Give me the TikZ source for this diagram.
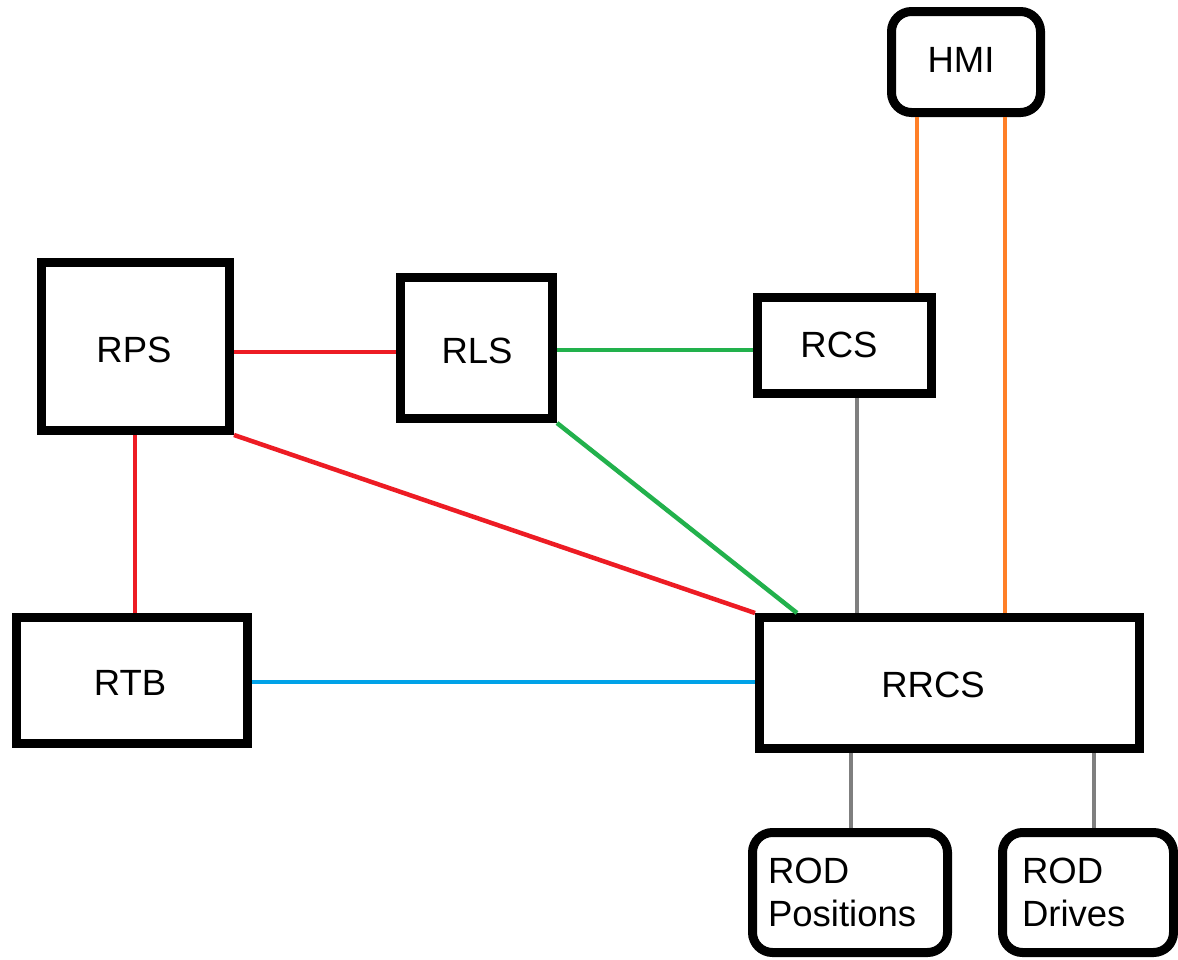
\documentclass[tikz,border=0pt]{standalone}
\usepackage{fontspec}
\setmainfont{Liberation Sans}
\definecolor{pred}{RGB}{237,28,36}
\definecolor{pgreen}{RGB}{34,177,76}
\definecolor{porange}{RGB}{255,127,39}
\definecolor{pblue}{RGB}{0,162,232}
\definecolor{pgray}{RGB}{127,127,127}
\tikzset{
  lbl/.style={font=\fontsize{36.5}{43}\selectfont},
  box/.style={draw=black, line width=9pt, fill=white, inner sep=0pt, lbl},
  rbox/.style={box, rounded corners=20pt},
  link/.style={line width=4.5pt},
}
\begin{document}
\begin{tikzpicture}[x=1pt,y=-1pt]
\useasboundingbox (0,0) rectangle (1178,959);
\fill[white] (0,0) rectangle (1178,959);

% nodes
\node[rbox, minimum width=149pt, minimum height=101pt] (HMI) at (966,62) {};
\node[lbl] (HMIt) at (961,60) {HMI};
\node[box, minimum width=188pt, minimum height=168pt] (RPS) at (135.5,346.5) {};
\node[lbl] (RPSt) at (134,350) {RPS};
\node[box, minimum width=152pt, minimum height=141pt] (RLS) at (476.5,348) {};
\node[lbl] (RLSt) at (477,351) {RLS};
\node[box, minimum width=174pt, minimum height=96pt] (RCS) at (844.5,345.5) {};
\node[lbl] (RCSt) at (839,345) {RCS};
\node[box, minimum width=231pt, minimum height=126pt] (RTB) at (132,680.5) {};
\node[lbl] (RTBt) at (130,682.5) {RTB};
\node[box, minimum width=380pt, minimum height=131pt] (RRCS) at (949.5,683) {};
\node[lbl] (RRCSt) at (933,685) {RRCS};
\node[rbox, minimum width=195pt, minimum height=120pt, text width=164pt,
      inner xsep=15.5pt, align=left] (RODP) at (850,892.5) {ROD\\Positions};
\node[rbox, minimum width=171pt, minimum height=120pt, text width=132pt,
      inner xsep=19.5pt, align=left] (RODD) at (1088,892.5) {ROD\\Drives};

% connectors
\draw[link, pred] (RPS.east |- 0,352) -- (RLS.west |- 0,352);
\draw[link, pgreen] (RLS.east |- 0,350) -- (RCS.west |- 0,350);
\draw[link, pred] (RPS.south -| 135,0) -- (RTB.north -| 135,0);
\draw[link, pred] (RPS.south east) -- (RRCS.north west);
\draw[link, pgreen] (RLS.south east) -- (RRCS.north -| 797,0);
\draw[link, pgray] (RCS.south -| 857,0) -- (RRCS.north -| 857,0);
\draw[link, porange] (HMI.south -| 917,0) -- (RCS.north -| 917,0);
\draw[link, porange] (HMI.south -| 1005,0) -- (RRCS.north -| 1005,0);
\draw[link, pblue] (RTB.east |- 0,682) -- (RRCS.west |- 0,682);
\draw[link, pgray] (RRCS.south -| 851,0) -- (RODP.north -| 851,0);
\draw[link, pgray] (RRCS.south -| 1094,0) -- (RODD.north -| 1094,0);
\end{tikzpicture}
\end{document}
